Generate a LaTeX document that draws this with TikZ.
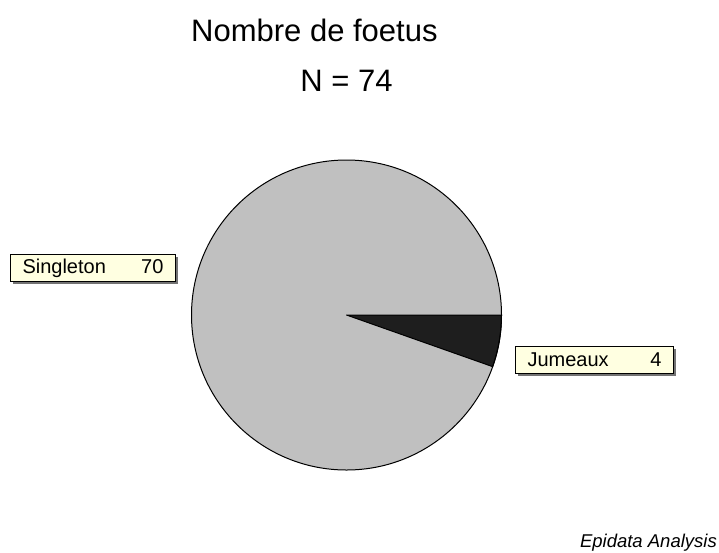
\documentclass[tikz,border=0pt]{standalone}
\usepackage{fontspec}
\setmainfont{Liberation Sans}
\usetikzlibrary{shadows}
\definecolor{piegray}{RGB}{192,192,192}
\definecolor{piedark}{RGB}{30,30,30}
\definecolor{tipyellow}{RGB}{255,255,225}
\tikzstyle{valbox} = [rectangle, draw=black, line width=1pt, fill=tipyellow, anchor=north west, inner xsep=12pt, inner ysep=0pt, minimum height=27pt, font=\fontsize{20}{23}\selectfont, drop shadow={shadow xshift=2pt, shadow yshift=-2pt, fill=black!55, opacity=1}]
\tikzset{slice/.style = {
    draw=black,
    line width=1pt,
    line join=round,
  }
}

\begin{document}
\begin{tikzpicture}[x=1pt, y=-1pt]
            \useasboundingbox (0,0) rectangle (719,552);
            % titles
            \node[font=\fontsize{31}{36}\selectfont, inner sep=0pt, anchor=base west] (title) at (191,41) {Nombre de foetus};
            \node[font=\fontsize{31}{36}\selectfont, inner sep=0pt, anchor=base] (count) at (346.5,91) {N = 74};

            % pie
            \coordinate (c) at (346.5,315);
            \fill[piegray] (c) circle[radius=155];
            \filldraw[slice, fill=piedark] (c) -- ++(0:155) arc[start angle=0, end angle=19.46, radius=155] -- cycle;
            \draw[slice] (c) circle[radius=155];

            % value labels
            \node[valbox, text width=141pt] (single) at (10,254) {Singleton\hfill 70};
            \node[valbox, text width=134pt] (twins) at (515,346) {Jumeaux\hfill 4};

            % footer
            \node[font=\itshape\fontsize{18.5}{22}\selectfont, inner sep=0pt, anchor=base east] (soft) at (717,547) {Epidata Analysis};
\end{tikzpicture}
\end{document}
